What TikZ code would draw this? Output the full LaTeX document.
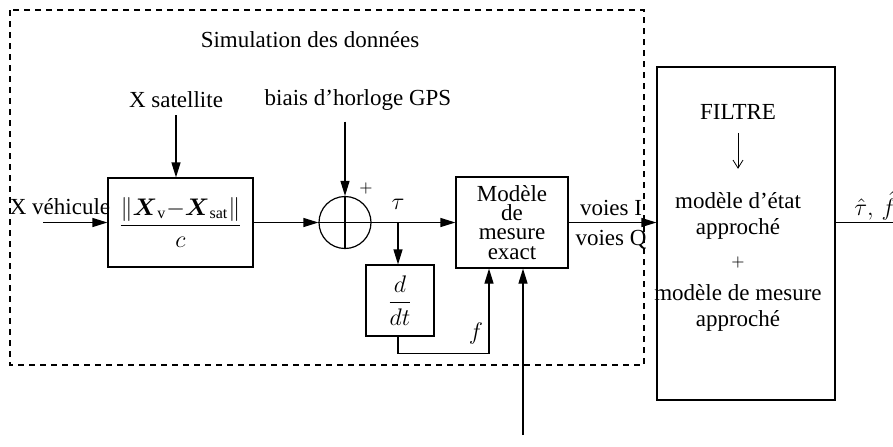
\documentclass[tikz,border=0pt]{standalone}
\usepackage{amsmath}
\usepackage{fontspec}
\setmainfont{Liberation Serif}
\usetikzlibrary{arrows.meta}

\begin{document}
\begin{tikzpicture}[x=0.5pt,y=-0.5pt,line width=0.6pt,
  >={Triangle[length=7.5pt,width=4.5pt]},
  every node/.style={font=\fontsize{11.5}{13}\selectfont},
  bloc/.style={draw,inner sep=0pt,align=center}]
  \useasboundingbox (0,0) rectangle (893,446);
  \draw[dash pattern=on 3pt off 2.5pt] (10,10) rectangle (644,365);
  \node (simu) at (310,40) {Simulation des données};
  \node (xsat) at (176,100) {X satellite};
  \node (biais) at (358,100) {biais d'horloge GPS};
  \node (xveh) at (60,207) {X véhicule};
  \coordinate (xin) at (43,222.5);
  \node[bloc,minimum width=72.5pt,minimum height=44.5pt,font=\fontsize{12}{14}\selectfont] (norme) at (180.5,222.5)
    {$\dfrac{\|\boldsymbol{X}_{\mathrm{v}}{-}\boldsymbol{X}_{\mathrm{sat}}\|}{c}$};
  \node[draw,circle,minimum size=26pt,inner sep=0pt] (somme) at (345,222.5) {};
  \draw (somme.north) -- (somme.south) (somme.west) -- (somme.east);
  \node (plus) at (366,188) {\footnotesize$+$};
  \coordinate (branche) at (398,222.5);
  \node (tau) at (398,204) {\fontsize{13}{14}\selectfont$\tau$};
  \node[bloc,minimum width=56pt,minimum height=45.5pt,
    font=\fontsize{11.5}{9.6}\selectfont] (mesure) at (512,222.5)
    {Modèle\\de\\mesure\\exact};
  \node[bloc,minimum width=34pt,minimum height=35.5pt,font=\fontsize{12}{14}\selectfont] (ddt) at (400,300.5) {$\dfrac{d}{dt}$};
  \node (f) at (476,333) {\fontsize{13}{14}\selectfont$f$};
  \coordinate (extern) at (523,435);
  \node[bloc,minimum width=89pt,minimum height=166.5pt] (filtre) at (746,233.5) {};
  \node (filtretxt) at (738,112) {FILTRE};
  \node[align=center] (etat) at (738,216) {modèle d'état\\approché};
  \node (plusf) at (738,262) {\footnotesize$+$};
  \node[align=center] (mmes) at (738,308) {modèle de mesure\\approché};
  \node (voiesI) at (611,208) {voies I};
  \node (voiesQ) at (611,240) {voies Q};
  \node[anchor=west,font=\fontsize{13}{14}\selectfont] (estim) at (847,206) {$\hat{\tau},\,\hat{f}$};
  \coordinate (sortie) at (893,222.5);
  \draw[->] (xin) -- (norme);
  \draw[->] (xsat.south) -- (xsat.south |- norme.north);
  \draw[->] (norme) -- (somme);
  \draw[->] (biais.south -| somme) ++(0,4) -- (somme);
  \draw[->] (somme) -- (mesure);
  \draw[->] (branche) -- (ddt.north -| branche);
  \draw[->] (ddt.south -| branche) -- ++(0,17) -| ([xshift=-11.5pt]mesure.south);
  \draw[->] (extern) -- (extern |- mesure.south);
  \draw[->] (mesure) -- (filtre.west |- mesure);
  \draw[-{Straight Barb[length=4pt,width=5pt]},line width=0.4pt] (filtretxt.south) ++(0,6) -- ++(0,36);
  \draw (filtre.east |- mesure) -- (sortie);
\end{tikzpicture}
\end{document}
